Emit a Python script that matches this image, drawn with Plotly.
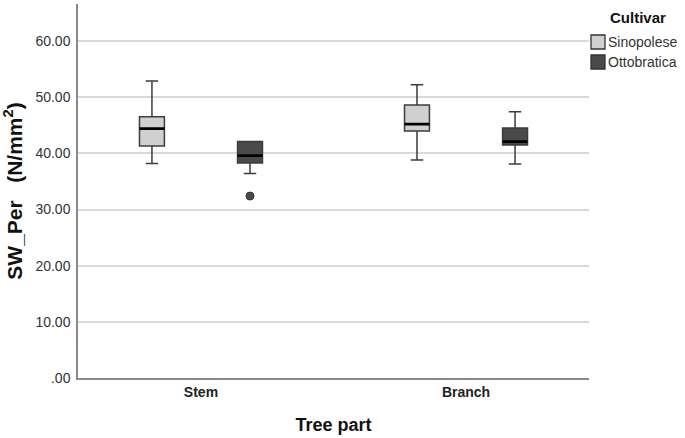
import plotly.graph_objects as go

# ---- data ----
parts = ["Stem", "Branch"]
cultivars = ["Sinopolese", "Ottobratica"]

sino_lower = [38.2, 38.8]
sino_q1 = [41.3, 44.0]
sino_median = [44.4, 45.2]
sino_q3 = [46.5, 48.6]
sino_upper = [52.9, 52.2]

otto_lower = [36.4, 38.1]
otto_q1 = [38.3, 41.5]
otto_median = [39.6, 42.1]
otto_q3 = [42.1, 44.5]
otto_upper = [42.1, 47.4]

otto_outlier_part = ["Stem"]
otto_outlier_value = [32.4]

y_tickvals = [0, 10, 20, 30, 40, 50, 60]
y_ticktext = [".00", "10.00", "20.00", "30.00", "40.00", "50.00", "60.00"]

# ---- layout helpers ----
W, H = 685, 438
ML, MR, MT, MB = 78, 96, 4, 60
PW, PH = W - ML - MR, H - MT - MB

def px_x(p):  # pixel -> paper x
    return (p - ML) / PW

def px_y(p):  # pixel -> paper y
    return (H - MB - p) / PH

offset = 0.185
box_w = 0.094
colors = {"Sinopolese": "#d0d0d0", "Ottobratica": "#4a4a4a"}
line_col = "#3c3c3c"
FONT = "Liberation Sans, Arial, sans-serif"

base = {p: i for i, p in enumerate(parts)}

fig = go.Figure()

series = [
    ("Sinopolese", -offset, sino_lower, sino_q1, sino_median, sino_q3, sino_upper),
    ("Ottobratica", offset, otto_lower, otto_q1, otto_median, otto_q3, otto_upper),
]

for name, off, lo, q1, med, q3, up in series:
    xs = [base[p] + off for p in parts]
    fig.add_trace(go.Box(
        name=name, x=xs, q1=q1, median=med, q3=q3,
        lowerfence=lo, upperfence=up,
        width=box_w, whiskerwidth=0.5,
        fillcolor=colors[name],
        line=dict(color=line_col, width=1.5),
        boxpoints=False, showlegend=False,
    ))
    # thicker black median overlay
    fig.add_trace(go.Box(
        name=name + " median",
        x=xs, q1=med, median=med, q3=med,
        lowerfence=med, upperfence=med,
        width=box_w, whiskerwidth=0,
        fillcolor="rgba(0,0,0,0)",
        line=dict(color="#000000", width=2.6),
        boxpoints=False, showlegend=False, hoverinfo="skip",
    ))

fig.add_trace(go.Scatter(
    name="Ottobratica outlier",
    x=[base[p] + offset for p in otto_outlier_part],
    y=otto_outlier_value,
    mode="markers",
    marker=dict(color="#4a4a4a", size=8, line=dict(color="#333333", width=1)),
    showlegend=False,
))

# ---- custom legend (SPSS style) ----
shapes = []
annotations = []
legend_rows = [(cultivars[0], 35), (cultivars[1], 55)]
for name, top in legend_rows:
    shapes.append(dict(
        type="rect", xref="paper", yref="paper",
        x0=px_x(591), x1=px_x(605), y0=px_y(top + 14), y1=px_y(top),
        fillcolor=colors[name], line=dict(color="#333333", width=1.3),
    ))
    annotations.append(dict(
        text=name, xref="paper", yref="paper",
        x=px_x(606), y=px_y(top + 7), xanchor="left", yanchor="middle",
        showarrow=False, font=dict(size=14, color="#333333"),
    ))
annotations.append(dict(
    text="<b>Cultivar</b>", xref="paper", yref="paper",
    x=px_x(638), y=px_y(17), xanchor="center", yanchor="middle",
    showarrow=False, font=dict(size=15, color="#111111"),
))

fig.update_layout(
    width=W, height=H,
    margin=dict(l=ML, r=MR, t=MT, b=MB, autoexpand=False),
    paper_bgcolor="white", plot_bgcolor="white",
    font=dict(family=FONT, color="#222222"),
    showlegend=False,
    shapes=shapes, annotations=annotations,
)

fig.update_xaxes(
    range=[-0.464, 1.464],
    tickvals=[base[p] for p in parts], ticktext=parts,
    tickfont=dict(size=14, weight="bold", color="#222222"),
    showgrid=False, zeroline=False,
    showline=True, linecolor="#8a8a8a", linewidth=1.5,
    ticks="", automargin=False,
    title=dict(text="<b>Tree part</b>", font=dict(size=18, color="#111111"), standoff=20),
)

fig.update_yaxes(
    range=[0, 66.6],
    tickvals=y_tickvals, ticktext=y_ticktext,
    tickfont=dict(size=14, color="#333333"),
    showgrid=True, gridcolor="#d9d9d9", gridwidth=1.5,
    zeroline=False,
    showline=True, linecolor="#8a8a8a", linewidth=1.5,
    ticks="outside", ticklen=3, tickcolor="rgba(0,0,0,0)",
    automargin=False,
    title=dict(text="<b>SW_Per&nbsp;&nbsp;&nbsp;(N/mm<sup>2</sup>)</b>", font=dict(size=21, color="#111111"), standoff=8),
)

fig.write_html("out.html", config={"displayModeBar": False},
               post_script="document.body.style.margin='0';")
